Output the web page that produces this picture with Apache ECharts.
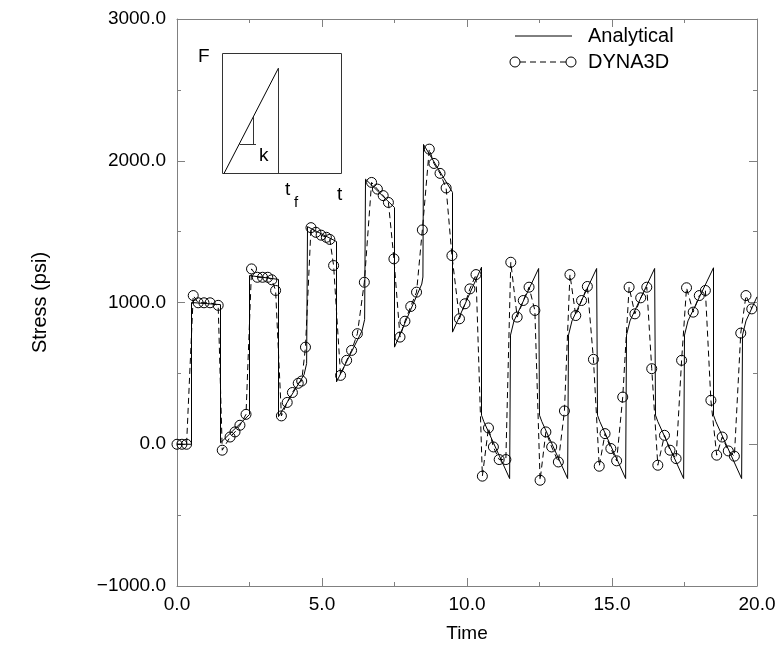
<!DOCTYPE html>
<html>
<head>
<meta charset="utf-8">
<script src="https://cdn.jsdelivr.net/npm/echarts@6/dist/echarts.min.js"></script>
<style>html,body{margin:0;padding:0;background:#fff;}#c{width:784px;height:654px;}</style>
</head>
<body>
<div id="c"></div>
<script>
// ---- data ----
const xTickLabels = ['0.0','5.0','10.0','15.0','20.0'];
const yTickLabels = ['\u22121000.0','0.0','1000.0','2000.0','3000.0'];

const analyticalT = [0, 0.5, 0.5, 1.5, 1.5, 2.5, 2.5, 3.5, 3.5, 4.38, 4.47, 4.5, 5.5, 5.5, 6.38, 6.47, 6.5, 7.5, 7.5, 8.44, 8.48, 8.5, 9.5, 9.5, 10.5,
  10.5, 10.58, 11.47, 11.5, 11.62, 12.47, 12.5, 12.58, 13.47, 13.5, 13.62, 14.47, 14.5, 14.58, 15.47, 15.5, 15.62, 16.47, 16.5, 16.58, 17.47, 17.5, 17.62, 18.5, 18.5, 18.58, 19.47, 19.5, 19.62, 20.0];
const analyticalS = [0, 0, 1000, 985, 10, 210, 1190, 1163, 195, 490, 570, 1535, 1430, 440, 800, 880, 1870, 1670, 685, 1130, 1180, 2115, 1777, 791, 1249,
  205, 160, -242, 770, 870, 1240, 205, 160, -242, 770, 870, 1240, 205, 160, -242, 770, 870, 1240, 205, 160, -242, 770, 870, 1245, 205, 160, -242, 770, 870, 1040];

const dynaT = [0.0, 0.17, 0.33, 0.56, 0.73, 0.93, 1.14, 1.42, 1.56, 1.83, 2.0, 2.17, 2.38,
  2.57, 2.77, 2.95, 3.13, 3.27, 3.40, 3.60, 3.80, 3.98, 4.18, 4.30, 4.43,
  4.62, 4.79, 4.97, 5.15, 5.27, 5.40, 5.64, 5.85, 6.02, 6.22, 6.46,
  6.71, 6.91, 7.11, 7.29, 7.48, 7.69, 7.86, 8.06, 8.26, 8.46,
  8.70, 8.86, 9.07, 9.28, 9.48, 9.74, 9.93, 10.10, 10.31,
  10.53, 10.74, 10.91, 11.11, 11.34, 11.51, 11.73, 11.94, 12.14, 12.34,
  12.52, 12.72, 12.92, 13.15, 13.36, 13.55, 13.75, 13.95, 14.15, 14.36,
  14.56, 14.76, 14.96, 15.16, 15.37, 15.59, 15.79, 15.99, 16.20, 16.37,
  16.58, 16.81, 17.00, 17.21, 17.40, 17.57, 17.80, 18.01, 18.22, 18.41,
  18.61, 18.80, 19.01, 19.22, 19.44, 19.62, 19.82];
const dynaS = [0, 0, 0, 1049, 998, 998, 998, 980, -42, 51, 87, 134, 211,
  1237, 1178, 1178, 1178, 1160, 1085, 200, 295, 365, 430, 446, 685,
  1528, 1495, 1475, 1460, 1445, 1261, 486, 592, 662, 780, 1143,
  1847, 1800, 1754, 1706, 1308, 756, 868, 972, 1073, 1512,
  2082, 1981, 1911, 1808, 1331, 885, 991, 1096, 1197,
  -225, 115, -19, -108, -108, 1284, 897, 1014, 1108, 944,
  -254, 87, -19, -125, 235, 1197, 908, 1014, 1113, 599,
  -155, 75, -30, -117, 333, 1108, 920, 1033, 1108, 533,
  -148, 63, -42, -101, 592, 1104, 932, 1049, 1085, 310,
  -77, 51, -47, -84, 784, 1049, 955];

const legendNames = ['Analytical', 'DYNA3D'];

// ---- chart ----
const FONT = "'Liberation Sans', Arial, Helvetica, sans-serif";
const AX = '#808080';
const chart = echarts.init(document.getElementById('c'), null, {renderer: 'canvas'});

function pair(ts, ss) { return ts.map((t, i) => [t, ss[i]]); }

const baseAxis = {
  axisLine: {show: true, onZero: false, lineStyle: {color: AX, width: 1}},
  axisTick: {show: true, inside: true, length: 8, lineStyle: {color: AX}},
  minorTick: {show: true, splitNumber: 2, length: 4, lineStyle: {color: AX}},
  splitLine: {show: false},
  minorSplitLine: {show: false}
};

const option = {
  animation: false,
  backgroundColor: '#fff',
  grid: {left: 177, top: 19, right: 27, bottom: 68, containLabel: false},
  xAxis: [
    Object.assign({}, baseAxis, {
      type: 'value', min: 0, max: 20, interval: 5, position: 'bottom',
      name: 'Time', nameLocation: 'middle', nameGap: 38,
      nameTextStyle: {fontFamily: FONT, fontSize: 19, color: '#000'},
      axisLabel: {margin: 9, fontFamily: FONT, fontSize: 19, color: '#000',
        formatter: v => xTickLabels[Math.round(v / 5)]}
    }),
    Object.assign({}, baseAxis, {
      type: 'value', min: 0, max: 20, interval: 5, position: 'top',
      axisLabel: {show: false}
    })
  ],
  yAxis: [
    Object.assign({}, baseAxis, {
      type: 'value', min: -1000, max: 3000, interval: 1000, position: 'left',
      name: 'Stress (psi)', nameLocation: 'middle', nameGap: 127, nameRotate: 90,
      nameTextStyle: {fontFamily: FONT, fontSize: 20, color: '#000'},
      axisLabel: {margin: 11, fontFamily: FONT, fontSize: 19, color: '#000',
        formatter: v => yTickLabels[Math.round((v + 1000) / 1000)]}
    }),
    Object.assign({}, baseAxis, {
      type: 'value', min: -1000, max: 3000, interval: 1000, position: 'right',
      axisLabel: {show: false}
    })
  ],
  series: [
    {
      name: legendNames[1], type: 'line', data: pair(dynaT, dynaS),
      xAxisIndex: 0, yAxisIndex: 0,
      symbol: 'circle', symbolSize: 10, showSymbol: true,
      lineStyle: {color: '#000', width: 1, type: [6, 4]},
      itemStyle: {color: 'rgba(0,0,0,0)', borderColor: '#000', borderWidth: 1},
      emphasis: {disabled: true}, z: 2
    },
    {
      name: legendNames[0], type: 'line', data: pair(analyticalT, analyticalS),
      xAxisIndex: 0, yAxisIndex: 0,
      symbol: 'none', lineStyle: {color: '#000', width: 1},
      emphasis: {disabled: true}, z: 3
    }
  ],
  graphic: [
    // legend
    {type: 'line', shape: {x1: 515, y1: 36, x2: 572, y2: 36}, style: {stroke: '#000', lineWidth: 1}},
    {type: 'text', style: {x: 588, y: 36, text: legendNames[0], font: '20px ' + FONT, fill: '#000', textVerticalAlign: 'middle'}},
    {type: 'line', shape: {x1: 520, y1: 62, x2: 566, y2: 62}, style: {stroke: '#000', lineWidth: 1, lineDash: [6, 4]}},
    {type: 'circle', shape: {cx: 515, cy: 62, r: 5}, style: {fill: '#fff', stroke: '#000', lineWidth: 1}},
    {type: 'circle', shape: {cx: 571, cy: 62, r: 5}, style: {fill: '#fff', stroke: '#000', lineWidth: 1}},
    {type: 'text', style: {x: 588, y: 62, text: legendNames[1], font: '20px ' + FONT, fill: '#000', textVerticalAlign: 'middle'}},
    // inset sketch
    {type: 'rect', shape: {x: 222.5, y: 53.5, width: 119, height: 120}, style: {fill: 'none', stroke: '#333', lineWidth: 1}},
    {type: 'line', shape: {x1: 224, y1: 173.5, x2: 278.5, y2: 68}, style: {stroke: '#000', lineWidth: 1}},
    {type: 'line', shape: {x1: 278.5, y1: 68, x2: 278.5, y2: 173.5}, style: {stroke: '#333', lineWidth: 1}},
    {type: 'line', shape: {x1: 239.5, y1: 144.5, x2: 256, y2: 144.5}, style: {stroke: '#333', lineWidth: 1}},
    {type: 'line', shape: {x1: 253.5, y1: 117, x2: 253.5, y2: 144.5}, style: {stroke: '#333', lineWidth: 1}},
    {type: 'text', style: {x: 198, y: 57, text: 'F', font: '19px ' + FONT, fill: '#000', textVerticalAlign: 'middle'}},
    {type: 'text', style: {x: 259, y: 156, text: 'k', font: '19px ' + FONT, fill: '#000', textVerticalAlign: 'middle'}},
    {type: 'text', style: {x: 285, y: 190, text: 't', font: '19px ' + FONT, fill: '#000', textVerticalAlign: 'middle'}},
    {type: 'text', style: {x: 294, y: 203, text: 'f', font: '15px ' + FONT, fill: '#000', textVerticalAlign: 'middle'}},
    {type: 'text', style: {x: 337, y: 195, text: 't', font: '19px ' + FONT, fill: '#000', textVerticalAlign: 'middle'}}
  ]
};
chart.setOption(option);
</script>
</body>
</html>
